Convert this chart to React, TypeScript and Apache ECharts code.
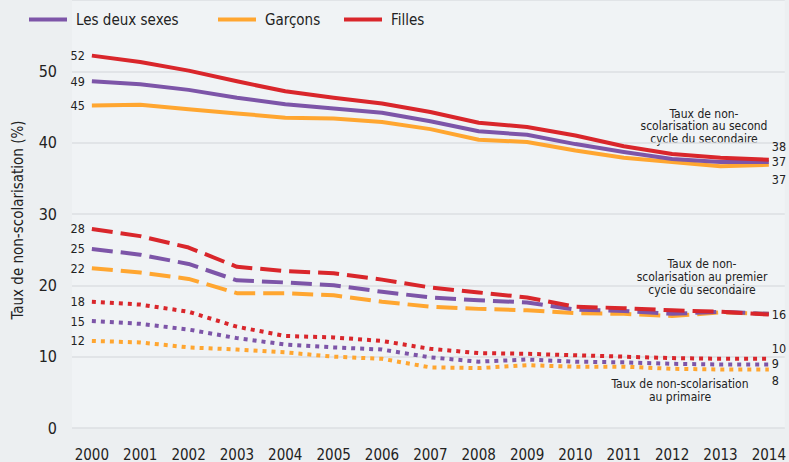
import React, { useEffect, useRef } from "react";
import * as echarts from "echarts";

const years = [2000, 2001, 2002, 2003, 2004, 2005, 2006, 2007, 2008, 2009, 2010, 2011, 2012, 2013, 2014];
const yTicks = [0, 10, 20, 30, 40, 50];

const secondBoth = [48.6, 48.2, 47.4, 46.3, 45.4, 44.8, 44.2, 43.0, 41.6, 41.1, 39.8, 38.7, 37.7, 37.3, 37.3];
const secondBoys = [45.2, 45.3, 44.7, 44.1, 43.5, 43.4, 42.9, 41.9, 40.4, 40.1, 38.9, 37.9, 37.3, 36.7, 36.9];
const secondGirls = [52.2, 51.3, 50.1, 48.6, 47.2, 46.3, 45.5, 44.3, 42.8, 42.2, 41.0, 39.5, 38.4, 37.9, 37.6];

const premierBoth = [25.1, 24.3, 23.0, 20.7, 20.4, 20.0, 19.1, 18.3, 17.9, 17.6, 16.6, 16.4, 16.0, 16.3, 16.0];
const premierBoys = [22.4, 21.8, 20.9, 18.9, 18.9, 18.6, 17.7, 17.0, 16.7, 16.5, 16.1, 16.0, 15.7, 16.2, 16.0];
const premierGirls = [27.9, 26.9, 25.3, 22.6, 22.0, 21.7, 20.8, 19.7, 19.0, 18.3, 17.0, 16.8, 16.5, 16.3, 15.9];

const primaryBoth = [15.0, 14.6, 13.8, 12.6, 11.7, 11.3, 11.0, 9.9, 9.3, 9.6, 9.3, 9.2, 9.0, 8.9, 8.9];
const primaryBoys = [12.2, 12.0, 11.3, 11.0, 10.6, 10.0, 9.7, 8.5, 8.4, 8.8, 8.6, 8.6, 8.3, 8.2, 8.2];
const primaryGirls = [17.7, 17.3, 16.3, 14.2, 12.9, 12.7, 12.2, 11.1, 10.5, 10.4, 10.2, 10.0, 9.8, 9.7, 9.7];

const NAME_BOTH = "Les deux sexes";
const NAME_BOYS = "Garçons";
const NAME_GIRLS = "Filles";

const PURPLE = "#7d55a8";
const ORANGE = "#ffa630";
const RED = "#d9262b";
const TEXT = "#222222";
const FONT = "'DejaVu Sans Condensed', 'Liberation Sans Narrow', 'Noto Sans', sans-serif";

const SOLID: any = "solid";
const DASHED: any = [21, 8];
const DOTTED: any = [4, 5];

function makeSeries(name: string, values: number[], color: string, dash: any, endOffset: number | null) {
  const fmt = (p: any) => String(Math.round(p.value[1]));
  const data: any[] = values.map((v, i) => ({ value: [years[i], v], label: { show: false } }));
  data[0] = {
    value: data[0].value,
    label: { show: true, position: "left", distance: 7, formatter: fmt, fontSize: 12.5, color: TEXT, fontFamily: FONT },
  };
  const last = data.length - 1;
  data[last] = {
    value: data[last].value,
    label: {
      show: endOffset !== null,
      position: "right",
      distance: 3,
      offset: [0, endOffset ?? 0],
      formatter: fmt,
      fontSize: 12.5,
      color: TEXT,
      fontFamily: FONT,
    },
  };
  return {
    type: "line",
    name,
    data,
    showSymbol: true,
    symbol: "circle",
    symbolSize: 0,
    lineStyle: { color, width: 4, type: dash, cap: "butt", join: "round" },
    itemStyle: { color },
    emphasis: { disabled: true },
    z: 3,
  };
}

function legendFor(name: string, color: string, left: number) {
  return {
    data: [name],
    left,
    top: 12,
    padding: 0,
    icon: "rect",
    itemWidth: 38,
    itemHeight: 4,
    selectedMode: false,
    itemStyle: { color, borderWidth: 0 },
    textStyle: { fontSize: 15, color: TEXT, fontFamily: FONT, padding: [0, 0, 0, 4] },
  };
}

export default function App() {
  const ref = useRef<HTMLDivElement>(null);
  useEffect(() => {
    if (!ref.current) return;
    const chart = echarts.init(ref.current, undefined, { renderer: "svg" });
    const option: any = {
      animation: false,
      backgroundColor: "#eceff1",
      textStyle: { fontFamily: FONT },
      legend: [legendFor(NAME_BOTH, PURPLE, 29), legendFor(NAME_BOYS, ORANGE, 218), legendFor(NAME_GIRLS, RED, 344)],
      grid: {
        left: 72,
        right: 0,
        top: -4,
        bottom: 33,
        show: true,
        backgroundColor: "#f0f3f5",
        borderWidth: 0,
        containLabel: false,
      },
      xAxis: {
        type: "value",
        min: 1999.589,
        max: 2014.33,
        axisLine: { show: false },
        axisTick: { show: false },
        splitLine: { show: false },
        axisLabel: {
          customValues: years,
          formatter: (v: number) => String(v),
          fontSize: 15,
          color: TEXT,
          fontFamily: FONT,
          margin: 19,
        },
      },
      yAxis: {
        type: "value",
        min: 0,
        max: 60,
        interval: 10,
        axisLine: { show: false },
        axisTick: { show: false },
        splitLine: { show: true, lineStyle: { color: "#dcdfe2", width: 1.5 } },
        axisLabel: {
          customValues: yTicks,
          fontSize: 16,
          color: TEXT,
          fontFamily: FONT,
          margin: 15,
        },
      },
      series: [
        makeSeries(NAME_BOYS, secondBoys, ORANGE, SOLID, 15),
        makeSeries(NAME_BOTH, secondBoth, PURPLE, SOLID, 0),
        makeSeries(NAME_GIRLS, secondGirls, RED, SOLID, -13),
        makeSeries(NAME_BOYS, premierBoys, ORANGE, DASHED, null),
        makeSeries(NAME_BOTH, premierBoth, PURPLE, DASHED, null),
        makeSeries(NAME_GIRLS, premierGirls, RED, DASHED, 0),
        makeSeries(NAME_BOYS, primaryBoys, ORANGE, DOTTED, 11),
        makeSeries(NAME_BOTH, primaryBoth, PURPLE, DOTTED, -1),
        makeSeries(NAME_GIRLS, primaryGirls, RED, DOTTED, -10),
      ],
      graphic: [
        {
          type: "text",
          x: 18,
          y: 220,
          rotation: Math.PI / 2,
          style: {
            text: "Taux de non-scolarisation (%)",
            fontSize: 15,
            fill: TEXT,
            fontFamily: FONT,
            align: "center",
            verticalAlign: "middle",
          },
        },
        {
          type: "text",
          x: 704,
          y: 126,
          style: {
            text: "Taux de non-\nscolarisation au second\ncycle du secondaire",
            fontSize: 12,
            lineHeight: 12.5,
            fill: TEXT,
            fontFamily: FONT,
            align: "center",
            verticalAlign: "middle",
          },
        },
        {
          type: "text",
          x: 702,
          y: 277,
          style: {
            text: "Taux de non-\nscolarisation au premier\ncycle du secondaire",
            fontSize: 12,
            lineHeight: 13,
            fill: TEXT,
            fontFamily: FONT,
            align: "center",
            verticalAlign: "middle",
          },
        },
        {
          type: "text",
          x: 680,
          y: 390.5,
          style: {
            text: "Taux de non-scolarisation\nau primaire",
            fontSize: 12,
            lineHeight: 13,
            fill: TEXT,
            fontFamily: FONT,
            align: "center",
            verticalAlign: "middle",
          },
        },
      ],
    };
    chart.setOption(option);
    return () => chart.dispose();
  }, []);
  return <div ref={ref} style={{ position: "fixed", left: 0, top: 0, width: 789, height: 462 }} />;
}
